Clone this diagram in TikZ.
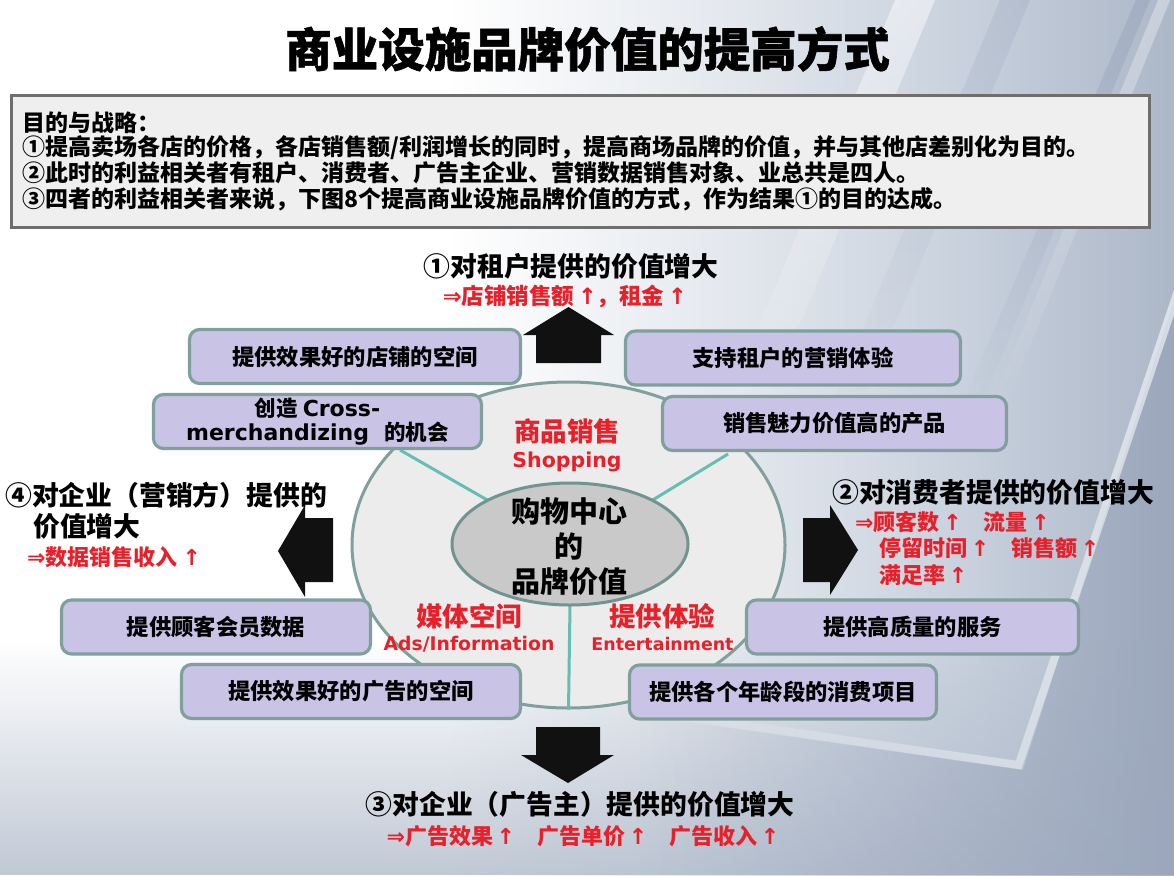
\documentclass[tikz,border=0pt]{standalone}
\usepackage{fontspec}
\setmainfont{Noto Sans CJK SC}
\newfontfamily\dv{DejaVu Sans}
\newfontfamily\titlefont{Noto Sans CJK SC}[UprightFeatures={FakeBold=1.2}, BoldFeatures={FakeBold=1.2}]
\usetikzlibrary{shapes.geometric,fadings}

\definecolor{boxfill}{RGB}{201,196,230}
\definecolor{boxline}{RGB}{127,160,156}
\definecolor{ellfill}{RGB}{236,236,236}
\definecolor{innfill}{RGB}{201,201,201}
\definecolor{innline}{RGB}{112,148,144}
\definecolor{tealln}{RGB}{100,190,180}
\definecolor{redt}{RGB}{232,32,42}
\definecolor{tbfill}{RGB}{239,239,239}
\definecolor{tbline}{RGB}{110,110,110}
\definecolor{bgA}{RGB}{228,232,238}
\definecolor{bgB}{RGB}{200,209,221}
\definecolor{bgC}{RGB}{172,183,200}
\definecolor{bgD}{RGB}{140,152,178}
\definecolor{arrowblk}{RGB}{17,17,17}

\pgfdeclarehorizontalshading{bgshade}{100bp}{color(0bp)=(white); color(25bp)=(white); color(44bp)=(white); color(56bp)=(bgA); color(66bp)=(bgB); color(75bp)=(bgC); color(100bp)=(bgC)}

\tikzset{
  pbox/.style={draw=boxline, line width=3.2pt, fill=boxfill, rounded corners=10pt,
    minimum height=54pt, inner sep=0pt, align=center, text=black,
    font=\fontsize{22.3}{24}\selectfont\bfseries},
  headtxt/.style={inner sep=0pt, text=black, font=\fontsize{26.8}{30}\selectfont\bfseries},
  redtxt/.style={inner sep=0pt, text=redt, font=\fontsize{22}{24}\selectfont\bfseries},
  redbig/.style={inner sep=0pt, text=redt, font=\fontsize{26.5}{30}\selectfont\bfseries},
  redlat/.style={inner sep=0pt, text=redt, anchor=base},
  tbtxt/.style={inner sep=0pt, anchor=west, text=black, font=\fontsize{23}{25}\selectfont\bfseries},
  tline/.style={draw=tealln, line width=3pt},
  blockarrow/.style={fill=arrowblk}
}

\begin{document}
\begin{tikzpicture}[x=1pt,y=-1pt]
\useasboundingbox (0,0) rectangle (1174,875);
% background
\shade[shading=bgshade] (0,0) rectangle (1174,875);
% diagonal streaks on the glass panel, fading downwards
\fill[white, opacity=.5, path fading=south] (895,0) -- (935,0) -- (760,420) -- (720,420) -- cycle;
\fill[bgD, opacity=.2, path fading=south] (1000,0) -- (1030,0) -- (855,420) -- (825,420) -- cycle;
\fill[bgD, opacity=.35, path fading=south] (1136,0) -- (1150,0) -- (975,420) -- (955,420) -- cycle;
\fill[white, opacity=.35, path fading=south] (1158,0) -- (1170,0) -- (1000,420) -- (985,420) -- cycle;
% soft darkening towards the bottom
\fill[bgC, opacity=.75, path fading=north] (0,640) rectangle (1174,875);
% darker area outside the glass panel
\fill[bgD, opacity=.5, path fading=west] (1174,300) -- (1023,770) -- (640,715) -- (640,875) -- (1174,875) -- cycle;
\draw[white, opacity=.6, line width=8pt, line join=miter, path fading=west] (1178,292) -- (1019,765) -- (640,710);

% title
\node[inner sep=0pt, text=black, font=\titlefont\fontsize{46.5}{50}\selectfont\bfseries] (title) at (587.5,49) {商业设施品牌价值的提高方式};

% text box
\node[draw=tbline, line width=3pt, fill=tbfill, minimum width=1138pt, minimum height=132pt, inner sep=0pt] (tbox) at (580,161) {};
\node[tbtxt] (tl1) at (22,123) {目的与战略：};
\node[tbtxt] (tl2) at (22,148) {①提高卖场各店的价格，各店销售额/利润增长的同时，提高商场品牌的价值，并与其他店差别化为目的。};
\node[tbtxt] (tl3) at (22,173) {②此时的利益相关者有租户、消费者、广告主企业、营销数据销售对象、业总共是四人。};
\node[tbtxt] (tl4) at (22,199) {③四者的利益相关者来说，下图8个提高商业设施品牌价值的方式，作为结果①的目的达成。};

% ellipses
\node[ellipse, draw=boxline, line width=3pt, fill=ellfill, minimum width=433pt, minimum height=326pt, inner sep=0pt] (outer) at (568.5,545) {};
\coordinate (lu) at (400,450);
\coordinate (ru) at (728,454);
\node[ellipse, minimum width=236pt, minimum height=122pt, inner sep=0pt] (innerghost) at (570,544) {};
\draw[tline] (lu) -- (innerghost.152);
\draw[tline] (ru) -- (innerghost.28);
\draw[tline] (innerghost.south) -- (outer.south);
\node[ellipse, draw=innline, line width=3pt, fill=innfill, minimum width=236pt, minimum height=122pt, inner sep=0pt] (inner) at (570,544) {};
\node[inner sep=0pt, align=center, text=black, font=\fontsize{29}{35}\selectfont\bfseries] (ctext) at (569,547) {购物中心\\的\\品牌价值};

% red category labels
\node[redbig] (shop) at (567,431) {商品销售};
\node[redlat, font=\dv\bfseries\fontsize{20.5}{22}\selectfont] (shopen) at (567,467) {Shopping};
\node[redbig] (media) at (469,616) {媒体空间};
\node[redlat, font=\dv\bfseries\fontsize{18.8}{22}\selectfont] (mediaen) at (469,650) {Ads/Information};
\node[redbig] (exper) at (662,616) {提供体验};
\node[redlat, font=\dv\bfseries\fontsize{17.4}{22}\selectfont] (experen) at (662.5,650) {Entertainment};

% boxes
\node[pbox, minimum width=331pt] (b1) at (355,356.5) {提供效果好的店铺的空间};
\node[pbox, minimum width=335pt] (b2) at (793,358) {支持租户的营销体验};
\node[pbox, minimum width=328pt, font=\fontsize{21.5}{24}\selectfont\bfseries] (b3) at (317.5,421.5) {创造 {\dv\fontsize{22}{24}\selectfont Cross-}\\{\dv\fontsize{22}{24}\selectfont merchandizing\ \ }的机会};
\node[pbox, minimum width=344pt] (b4) at (834.5,423.5) {销售魅力价值高的产品};
\node[pbox, minimum width=309pt] (b5) at (216,627) {提供顾客会员数据};
\node[pbox, minimum width=339pt] (b6) at (351,691.5) {提供效果好的广告的空间};
\node[pbox, minimum width=332pt] (b7) at (912.5,627) {提供高质量的服务};
\node[pbox, minimum width=307pt] (b8) at (783,692) {提供各个年龄段的消费项目};

% block arrows
\fill[blockarrow] (536,363) -- (536,335) -- (523,335) -- (568.5,307) -- (614,335) -- (601,335) -- (601,363) -- cycle;
\fill[blockarrow] (536,727) -- (600,727) -- (600,755) -- (614,755) -- (568,783) -- (521,755) -- (536,755) -- cycle;
\fill[blockarrow] (333,518) -- (305,518) -- (305,505) -- (278,551) -- (305,597) -- (305,582) -- (333,582) -- cycle;
\fill[blockarrow] (803,518) -- (830,518) -- (830,505) -- (858,550) -- (830,595) -- (830,582) -- (803,582) -- cycle;

% stakeholder headings
\node[headtxt] (h1) at (571,266) {①对租户提供的价值增大};
\node[redtxt, font=\fontsize{22.5}{24}\selectfont\bfseries] (r1) at (565,296.5) {{\dv ⇒}店铺销售额\,{\dv ↑}，租金\,{\dv ↑}};

\node[headtxt, anchor=west] (h4a) at (5,495) {④对企业（营销方）提供的};
\node[headtxt, anchor=west] (h4b) at (33,526) {价值增大};
\node[redtxt, anchor=west] (r4) at (27,557) {{\dv ⇒}数据销售收入\ {\dv ↑}};

\node[headtxt, anchor=west] (h2) at (832,492) {②对消费者提供的价值增大};
\node[redtxt, anchor=west] (r2a) at (855,522) {{\dv ⇒}顾客数\,{\dv ↑}\quad 流量\,{\dv ↑}};
\node[redtxt, anchor=west] (r2b) at (879,548) {停留时间\,{\dv ↑}\quad 销售额\,{\dv ↑}};
\node[redtxt, anchor=west] (r2c) at (879,575) {满足率\,{\dv ↑}};

\node[headtxt] (h3) at (580,804) {③对企业（广告主）提供的价值增大};
\node[redtxt] (r3) at (583,836) {{\dv ⇒}广告效果\,{\dv ↑}\quad 广告单价\,{\dv ↑}\quad 广告收入\,{\dv ↑}};
\end{tikzpicture}
\end{document}
